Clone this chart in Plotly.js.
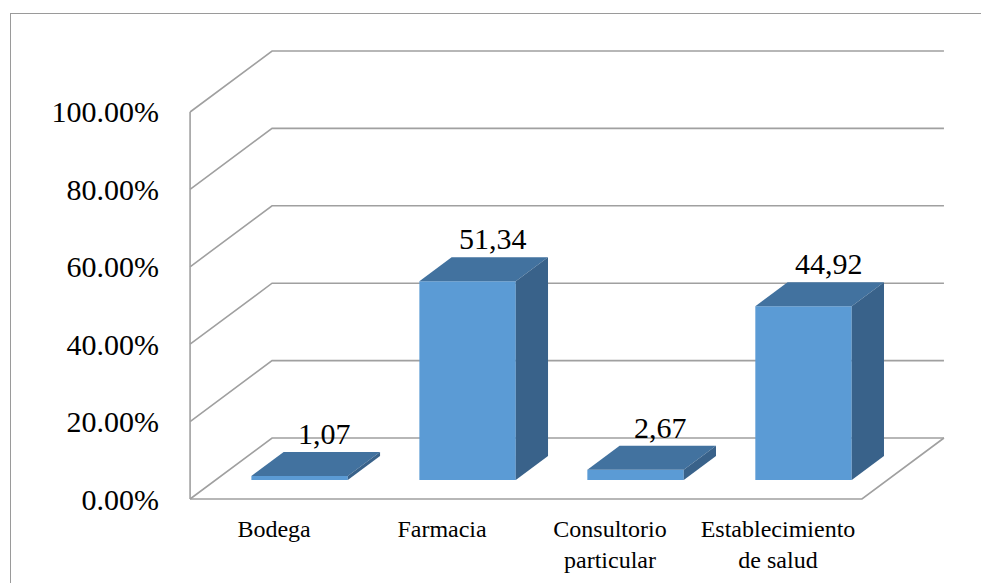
<!DOCTYPE html>
<html>
<head>
<meta charset="utf-8">
<script src="https://cdn.plot.ly/plotly-3.0.1.min.js"></script>
<style>
  html, body { margin: 0; padding: 0; background: #ffffff; }
  #wrap { position: relative; width: 981px; height: 583px; overflow: hidden; }
  #frame { position: absolute; left: 10px; top: 13px; width: 1000px; height: 600px;
           border-left: 1px solid #9a9a9a; border-top: 1px solid #9a9a9a; }
  #chart { position: absolute; left: 0; top: 0; width: 981px; height: 583px; }
</style>
</head>
<body>
<div id="wrap">
  <div id="frame"></div>
  <div id="chart"></div>
</div>
<script>
// Lugar de adquisición (%)
const categories = ['Bodega', 'Farmacia', 'Consultorio<br>particular', 'Establecimiento<br>de salud'];
const values = [1.07, 51.34, 2.67, 44.92];
const tickValues = [0, 20, 40, 60, 80, 100];
const tickLabels = ['0.00%', '20.00%', '40.00%', '60.00%', '80.00%', '100.00%'];

// Oblique "3D" geometry, in axis units
const WALL_DX = 0.488, WALL_DY = 15.76;     // depth of the floor / back wall
const BAR_FX = 0.152, BAR_FY = 4.9;         // bar front plane offset
const BAR_DX = 0.192, BAR_DY = 6.2;         // bar depth
const BAR_HALF = 0.287;                     // half bar width
const X0 = -0.5, X1 = categories.length - 0.5;

const FONT = 'Liberation Serif, Times New Roman, serif';
const GRID = '#a0a0a0';
const FRONT = '#5b9bd5', TOP = '#42729f', SIDE = '#39628a';

const shapes = [];

// walls: diagonal from front axis to back wall, then across the back wall
tickValues.forEach(v => {
  shapes.push({
    type: 'path', xref: 'x', yref: 'y', layer: 'below',
    path: `M ${X0} ${v} L ${X0 + WALL_DX} ${v + WALL_DY} L ${X1 + WALL_DX} ${v + WALL_DY}`,
    line: { color: GRID, width: 1.6 }
  });
});
// floor front and right edges, and vertical axis line
shapes.push({
  type: 'path', xref: 'x', yref: 'y', layer: 'below',
  path: `M ${X0} 0 L ${X1} 0 L ${X1 + WALL_DX} ${WALL_DY}`,
  line: { color: GRID, width: 1.6 }
});
shapes.push({
  type: 'path', xref: 'x', yref: 'y', layer: 'below',
  path: `M ${X0} 0 L ${X0} ${tickValues[tickValues.length - 1]}`,
  line: { color: GRID, width: 1.6 }
});

// top and side faces of each bar
values.forEach((v, i) => {
  const xl = i + BAR_FX - BAR_HALF, xr = i + BAR_FX + BAR_HALF;
  const yb = BAR_FY, yt = BAR_FY + v;
  shapes.push({
    type: 'path', xref: 'x', yref: 'y', layer: 'above',
    path: `M ${xl} ${yt} L ${xr} ${yt} L ${xr + BAR_DX} ${yt + BAR_DY} L ${xl + BAR_DX} ${yt + BAR_DY} Z`,
    fillcolor: TOP, line: { width: 0 }
  });
  shapes.push({
    type: 'path', xref: 'x', yref: 'y', layer: 'above',
    path: `M ${xr} ${yb} L ${xr} ${yt} L ${xr + BAR_DX} ${yt + BAR_DY} L ${xr + BAR_DX} ${yb + BAR_DY} Z`,
    fillcolor: SIDE, line: { width: 0 }
  });
});

// value labels above each bar
const annotations = values.map((v, i) => ({
  x: i + BAR_FX + BAR_DX, y: v + BAR_FY + BAR_DY,
  xref: 'x', yref: 'y', xanchor: 'center', yanchor: 'bottom',
  xshift: -7, yshift: 0,
  text: v.toFixed(2).replace('.', ','),
  showarrow: false,
  font: { family: FONT, size: 30, color: '#000000' }
}));

const trace = {
  type: 'bar',
  x: values.map((v, i) => i + BAR_FX),
  y: values,
  base: BAR_FY,
  width: BAR_HALF * 2,
  marker: { color: FRONT, line: { width: 0 } },
  hoverinfo: 'skip'
};

const layout = {
  width: 981, height: 583,
  margin: { l: 180, r: 31, t: 40, b: 73 },
  paper_bgcolor: 'rgba(0,0,0,0)',
  plot_bgcolor: 'rgba(0,0,0,0)',
  showlegend: false,
  xaxis: {
    range: [-0.56, 4.024], fixedrange: true,
    tickvals: categories.map((c, i) => i), ticktext: categories,
    showgrid: false, zeroline: false, showline: false, ticks: '',
    ticklabelstandoff: 2,
    tickfont: { family: FONT, size: 24, color: '#000000' }
  },
  yaxis: {
    range: [-2.84, 118.6], fixedrange: true,
    tickvals: tickValues, ticktext: tickLabels,
    showgrid: false, zeroline: false, showline: false, ticks: '',
    ticklabelstandoff: 20,
    tickfont: { family: FONT, size: 30, color: '#000000' }
  },
  shapes: shapes,
  annotations: annotations
};

Plotly.newPlot('chart', [trace], layout, { displayModeBar: false, staticPlot: true });
</script>
</body>
</html>
